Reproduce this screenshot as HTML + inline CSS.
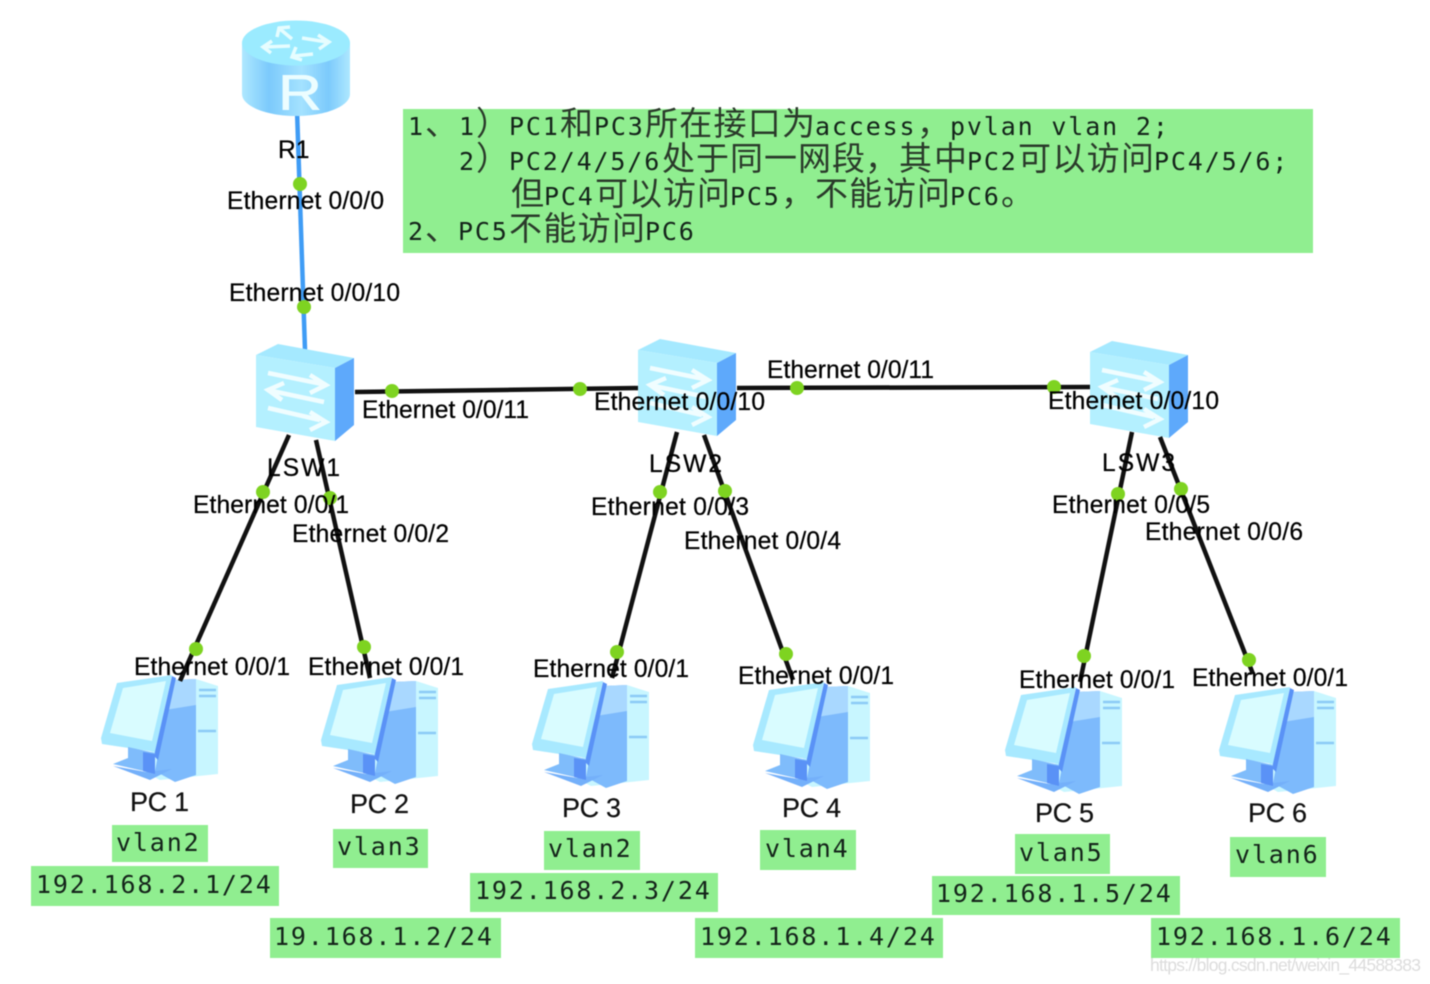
<!DOCTYPE html>
<html lang="zh"><head><meta charset="utf-8"><title>Network diagram</title>
<style>
html,body{margin:0;padding:0;background:#fff;width:1430px;height:984px;overflow:hidden}
svg{display:block;filter:blur(.5px)}
.e{font:24.6px "Liberation Sans",sans-serif;fill:#000;stroke:#000;stroke-width:.25}
.n{font:27px "Liberation Sans",sans-serif;fill:#111;stroke:#111;stroke-width:.2}
.m{font:25px "DejaVu Sans Mono","Liberation Mono",monospace;letter-spacing:1.85px;fill:#14241a}
.c{font:33px "WenQuanYi Zen Hei","Noto Sans CJK SC",sans-serif;fill:#2a3a2a}
.l{stroke:#111;stroke-width:4.5;fill:none}
</style></head><body>
<svg width="1430" height="984" viewBox="0 0 1430 984" xmlns="http://www.w3.org/2000/svg">
<defs>
<linearGradient id="rb" x1="0" x2="1" y1="0" y2="0"><stop offset="0" stop-color="#aee8ff"/><stop offset=".25" stop-color="#7ccafc"/><stop offset=".55" stop-color="#a4e2ff"/><stop offset=".8" stop-color="#7ccafc"/><stop offset="1" stop-color="#aee8ff"/></linearGradient>
<g id="sw">
<polygon points="256,355 278,344 354,358 335,368" fill="#a5e9ff"/>
<polygon points="256,355 335,368 335,441 256,427" fill="#b4f0ff"/>
<polygon points="335,368 354,358 354,425 335,441" fill="#5ea9fb"/>
<g fill="none" stroke="#f0fdff" stroke-width="4.5">
<path d="M268,373 L322,384 M310,375 L326,385 L310,393"/>
<path d="M324,402 L272,391 M284,383 L268,390 L282,400"/>
<path d="M268,408 L320,420 M310,412 L326,422 L310,430"/>
</g>
</g>
<g id="pc">
<polygon points="173,683 196,679 218,686 218,774 160,780 145,772" fill="#c8f6ff"/>
<polygon points="173,683 198,682 218,692 218,712 166,708" fill="#c8f6ff"/>
<polygon points="172,680 196,679 196,775 175,782 155,771" fill="#7dbafc"/>
<polygon points="172,680 196,679 196,705 165,710" fill="#a9d8ff"/>
<polygon points="117,683 172,675 155,752 102,744 101,738" fill="#a8e9ff"/>
<polygon points="123,688 166,681 152,741 110,733" fill="#d9fcff"/>
<polygon points="172,676 176,678 158,760 154,756" fill="#5a92f6"/>
<polygon points="128,747 155,753 155,762 148,772 113,764 128,758" fill="#7fbcfb"/>
<polygon points="113,766 146,772 172,769 150,780" fill="#74b0fa"/>
<polygon points="143,752 155,754 155,774 143,771" fill="#5a92f6"/>
<path d="M199,690 H216 M199,696 H216 M198,731 H216" stroke="#8ccaf6" stroke-width="2.5"/>
</g>
</defs>

<!-- description -->
<rect x="403" y="109" width="910" height="144" fill="#90ee90"/>
<g class="txt">
<text class="m" x="408" y="135">1</text><text class="c" x="425" y="135">、</text><text class="m" x="459" y="135">1</text><text class="c" x="476" y="135">）</text>
<text class="m" x="509" y="135">PC1</text><text class="c" x="560" y="135">和</text><text class="m" x="594" y="135">PC3</text><text class="c" x="645" y="135" textLength="170">所在接口为</text>
<text class="m" x="815" y="135">access</text><text class="c" x="917" y="135">，</text><text class="m" x="950" y="135">pvlan vlan 2;</text>
<text class="m" x="459" y="170">2</text><text class="c" x="476" y="170">）</text><text class="m" x="509" y="170">PC2/4/5/6</text><text class="c" x="662" y="170" textLength="203">处于同一网段</text><text class="c" x="865" y="170">，</text><text class="c" x="899" y="170" textLength="68">其中</text><text class="m" x="967" y="170">PC2</text><text class="c" x="1018" y="170" textLength="136">可以访问</text><text class="m" x="1154" y="170">PC4/5/6;</text>
<text class="c" x="511" y="205">但</text><text class="m" x="544" y="205">PC4</text><text class="c" x="595" y="205" textLength="135">可以访问</text><text class="m" x="730" y="205">PC5</text><text class="c" x="781" y="205">，</text><text class="c" x="815" y="205" textLength="135">不能访问</text><text class="m" x="950" y="205">PC6</text><text class="c" x="1001" y="205">。</text>
<text class="m" x="408" y="240">2</text><text class="c" x="425" y="240">、</text><text class="m" x="458" y="240">PC5</text><text class="c" x="509" y="240" textLength="136">不能访问</text><text class="m" x="645" y="240">PC6</text>
</g>

<!-- R1 link and backbone -->
<line x1="297" y1="110" x2="305" y2="350" stroke="#3f9cf5" stroke-width="4.5"/>
<path class="l" d="M355,392 L640,388"/>
<path class="l" d="M737,388 L1090,387"/>

<!-- router -->
<path d="M242,42 V94 C242,106 266,116 296,116 C326,116 350,106 350,94 V42 Z" fill="url(#rb)"/>
<ellipse cx="296" cy="43" rx="54" ry="22.5" fill="#9bebff"/>
<g fill="none" stroke="#e6fdff" stroke-width="3.5">
<path d="M280,29 L292,39 M277,37 L279,28 L290,27"/>
<path d="M302,38 L327,42 M318,35 L329,42 L319,49"/>
<path d="M290,46 L264,47 M272,41 L263,47 L271,53"/>
<path d="M294,56 L313,54 M296,47 L292,57 L302,60"/>
</g>
<text x="278" y="110" font-family="Liberation Sans,sans-serif" font-size="50" fill="#ecfdff" stroke="#ecfdff" stroke-width=".6" textLength="44" lengthAdjust="spacingAndGlyphs">R</text>

<!-- switches -->
<use href="#sw"/>
<use href="#sw" x="382" y="-5"/>
<use href="#sw" x="834" y="-3"/>

<!-- PCs -->
<use href="#pc"/>
<use href="#pc" x="220" y="2"/>
<use href="#pc" x="431" y="6"/>
<use href="#pc" x="652" y="7"/>
<use href="#pc" x="904" y="12"/>
<use href="#pc" x="1118" y="12"/>

<!-- links to PCs -->
<path class="l" d="M289,435 L180,681"/>
<path class="l" d="M316,440 L370,678"/>
<path class="l" d="M677,432 L612,678"/>
<path class="l" d="M704,435 L793,680"/>
<path class="l" d="M1132,432 L1080,682"/>
<path class="l" d="M1160,437 L1253,674"/>

<!-- port dots -->
<g fill="#7ed321">
<circle cx="300" cy="184" r="7"/><circle cx="304" cy="307" r="7"/>
<circle cx="392" cy="391" r="7"/><circle cx="580" cy="389" r="7"/>
<circle cx="797" cy="388" r="7"/><circle cx="1054" cy="387" r="7"/>
<circle cx="263" cy="492" r="7"/><circle cx="196" cy="649" r="7"/>
<circle cx="330" cy="498" r="7"/><circle cx="364" cy="647" r="7"/>
<circle cx="660" cy="492" r="7"/><circle cx="617" cy="652" r="7"/>
<circle cx="725" cy="491" r="7"/><circle cx="786" cy="654" r="7"/>
<circle cx="1118" cy="494" r="7"/><circle cx="1084" cy="656" r="7"/>
<circle cx="1181" cy="489" r="7"/><circle cx="1249" cy="660" r="7"/>
</g>

<!-- labels -->
<g class="e-group">
<text class="e" x="278" y="158">R1</text>
<text class="e" x="227" y="209" textLength="157">Ethernet 0/0/0</text>
<text class="e" x="229" y="301" textLength="171">Ethernet 0/0/10</text>
<text class="e" x="362" y="418" textLength="167">Ethernet 0/0/11</text>
<text class="e" x="594" y="410" textLength="171">Ethernet 0/0/10</text>
<text class="e" x="767" y="378" textLength="167">Ethernet 0/0/11</text>
<text class="e" x="1048" y="409" textLength="171">Ethernet 0/0/10</text>
<text class="e" x="267" y="476" textLength="73">LSW1</text>
<text class="e" x="649" y="472" textLength="73">LSW2</text>
<text class="e" x="1102" y="471" textLength="73">LSW3</text>
<text class="e" x="193" y="513" textLength="156">Ethernet 0/0/1</text>
<text class="e" x="292" y="542" textLength="157">Ethernet 0/0/2</text>
<text class="e" x="591" y="515" textLength="158">Ethernet 0/0/3</text>
<text class="e" x="684" y="549" textLength="157">Ethernet 0/0/4</text>
<text class="e" x="1052" y="513" textLength="158">Ethernet 0/0/5</text>
<text class="e" x="1145" y="540" textLength="158">Ethernet 0/0/6</text>
<text class="e" x="134" y="675" textLength="156">Ethernet 0/0/1</text>
<text class="e" x="308" y="675" textLength="156">Ethernet 0/0/1</text>
<text class="e" x="533" y="677" textLength="156">Ethernet 0/0/1</text>
<text class="e" x="738" y="684" textLength="156">Ethernet 0/0/1</text>
<text class="e" x="1019" y="688" textLength="156">Ethernet 0/0/1</text>
<text class="e" x="1192" y="686" textLength="156">Ethernet 0/0/1</text>
<text class="n" x="130" y="811" textLength="59">PC 1</text>
<text class="n" x="350" y="813" textLength="59">PC 2</text>
<text class="n" x="562" y="817" textLength="59">PC 3</text>
<text class="n" x="782" y="817" textLength="59">PC 4</text>
<text class="n" x="1035" y="822" textLength="59">PC 5</text>
<text class="n" x="1248" y="822" textLength="59">PC 6</text>
</g>

<!-- vlan and IP tags -->
<g fill="#90ee90">
<rect x="112" y="825" width="96" height="37"/><rect x="31" y="866" width="248" height="40"/>
<rect x="333" y="829" width="95" height="39"/><rect x="270" y="918" width="231" height="40"/>
<rect x="544" y="831" width="96" height="39"/><rect x="470" y="873" width="248" height="39"/>
<rect x="760" y="830" width="96" height="40"/><rect x="695" y="918" width="248" height="40"/>
<rect x="1015" y="834" width="95" height="40"/><rect x="932" y="876" width="248" height="39"/>
<rect x="1230" y="837" width="96" height="40"/><rect x="1151" y="918" width="249" height="40"/>
</g>
<text class="m" x="116" y="851">vlan2</text>
<text class="m" x="36" y="893">192.168.2.1/24</text>
<text class="m" x="337" y="855">vlan3</text>
<text class="m" x="274" y="945">19.168.1.2/24</text>
<text class="m" x="548" y="857">vlan2</text>
<text class="m" x="475" y="899">192.168.2.3/24</text>
<text class="m" x="765" y="857">vlan4</text>
<text class="m" x="700" y="945">192.168.1.4/24</text>
<text class="m" x="1019" y="861">vlan5</text>
<text class="m" x="936" y="902">192.168.1.5/24</text>
<text class="m" x="1235" y="863">vlan6</text>
<text class="m" x="1156" y="945">192.168.1.6/24</text>

<text x="1150" y="971" font-family="Liberation Sans,sans-serif" font-size="17.5" fill="#dcdcdc" textLength="271">https://blog.csdn.net/weixin_44588383</text>
</svg>
</body></html>
